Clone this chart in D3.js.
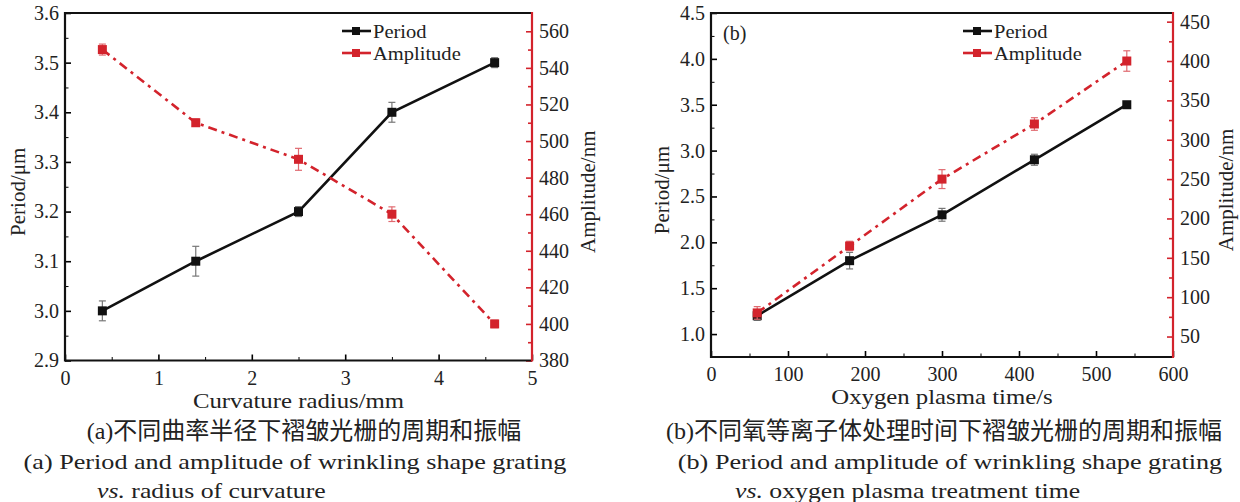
<!DOCTYPE html>
<html>
<head>
<meta charset="utf-8">
<script src="https://d3js.org/d3.v7.min.js"></script>
<style>
  body { margin: 0; background: #fff; }
  svg text { font-family: "Liberation Serif", "Noto Sans CJK SC", serif; fill: #222; }
</style>
</head>
<body>
<script>
// panel (a): curvature radius
const radius = [0.4, 1.4, 2.5, 3.5, 4.6];
const periodA = [3.0, 3.1, 3.2, 3.4, 3.5];
const periodAErr = [0.02, 0.03, 0.01, 0.02, 0.01];
const amplitudeA = [550, 510, 490, 460, 400];
const amplitudeAErr = [3, 2, 6, 4, 2];

// panel (b): oxygen plasma time
const plasmaTime = [60, 180, 300, 420, 540];
const periodB = [1.2, 1.8, 2.3, 2.9, 3.5];
const periodBErr = [0.05, 0.09, 0.07, 0.06, 0.03];
const amplitudeB = [80, 165, 250, 320, 400];
const amplitudeBErr = [8, 6, 12, 8, 13];

const seriesNames = ["Period", "Amplitude"];

const red = "#d3232c";
const W = 1240, H = 502;

const svg = d3.select("body").append("svg")
    .attr("width", W)
    .attr("height", H);

// text a bit wider than the font (scan is stretched)
function wideText(g, x, y, size, sx, anchor) {
    return g.append("text")
        .attr("transform", "translate(" + x + "," + y + ") scale(" + sx + ",1)")
        .attr("dy", "0.35em")
        .style("text-anchor", anchor)
        .style("font-size", size + "px");
}

function drawPanel(p) {
    let x = d3.scaleLinear().domain(p.xDomain).range([p.left, p.right]);
    let yL = d3.scaleLinear().domain(p.yLDomain).range([p.bottom, p.top]);
    let yR = d3.scaleLinear().domain(p.yRDomain).range([p.bottom, p.top]);

    let g = svg.append("g");

    // minor ticks first
    g.append("g").attr("transform", "translate(0," + p.bottom + ")")
        .call(d3.axisBottom(x).tickValues(p.xMinor).tickFormat("").tickSize(-3.5))
        .call(a => a.select(".domain").remove());
    g.append("g").attr("transform", "translate(" + p.left + ",0)")
        .call(d3.axisLeft(yL).tickValues(p.yLMinor).tickFormat("").tickSize(-3.5))
        .call(a => a.select(".domain").remove());
    g.append("g").attr("transform", "translate(" + p.right + ",0)")
        .call(d3.axisRight(yR).tickValues(p.yRMinor).tickFormat("").tickSize(-4))
        .call(a => a.select(".domain").remove())
        .selectAll("line").attr("stroke", red).attr("stroke-width", 1.6);

    // major axes
    let xa = g.append("g").attr("transform", "translate(0," + p.bottom + ")")
        .call(d3.axisBottom(x).tickValues(p.xTicks).tickFormat(p.xFmt).tickSize(-6).tickPadding(5));
    let yla = g.append("g").attr("transform", "translate(" + p.left + ",0)")
        .call(d3.axisLeft(yL).tickValues(p.yLTicks).tickFormat(p.yLFmt).tickSize(-6).tickPadding(6));
    let yra = g.append("g").attr("transform", "translate(" + p.right + ",0)")
        .call(d3.axisRight(yR).tickValues(p.yRTicks).tickFormat(d3.format("d")).tickSize(-6).tickPadding(7));

    [xa, yla, yra].forEach(a => {
        a.select(".domain").remove();
        a.selectAll("text").style("font-size", "20px").attr("fill", "#333");
        a.selectAll("line").attr("stroke-width", 1.6);
    });
    yra.selectAll("line").attr("stroke", red);
    xa.selectAll("text").attr("dy", "0.95em");

    // frame
    g.append("line").attr("x1", p.left).attr("x2", p.right).attr("y1", p.top).attr("y2", p.top)
        .attr("stroke", "#111").attr("stroke-width", 2.2);
    g.append("line").attr("x1", p.left).attr("x2", p.right).attr("y1", p.bottom).attr("y2", p.bottom)
        .attr("stroke", "#111").attr("stroke-width", 2.2);
    g.append("line").attr("x1", p.left).attr("x2", p.left).attr("y1", p.top - 1).attr("y2", p.bottom + 1)
        .attr("stroke", "#111").attr("stroke-width", 2.2);
    g.append("line").attr("x1", p.right).attr("x2", p.right).attr("y1", p.top - 1).attr("y2", p.bottom + 1)
        .attr("stroke", red).attr("stroke-width", 2.2);

    // series
    let series = [
        {name: seriesNames[0], xs: p.xs, ys: p.period, err: p.periodErr, scale: yL, color: "#111", err_color: "#777", dash: null},
        {name: seriesNames[1], xs: p.xs, ys: p.amplitude, err: p.amplitudeErr, scale: yR, color: red, err_color: "#e06a70", dash: "9,5,3,5"}
    ];

    series.forEach(s => {
        let pts = s.xs.map((v, i) => ({x: v, y: s.ys[i], e: s.err[i]}));
        let line = d3.line().x(d => x(d.x)).y(d => s.scale(d.y));
        g.append("path")
            .attr("d", line(pts))
            .attr("fill", "none")
            .attr("stroke", s.color)
            .attr("stroke-width", 2.6)
            .attr("stroke-dasharray", s.dash);

        let eb = g.append("g").selectAll("g").data(pts).join("g");
        eb.append("line")
            .attr("x1", d => x(d.x)).attr("x2", d => x(d.x))
            .attr("y1", d => s.scale(d.y - d.e)).attr("y2", d => s.scale(d.y + d.e))
            .attr("stroke", s.err_color).attr("stroke-width", 1.2);
        [-1, 1].forEach(k => {
            eb.append("line")
                .attr("x1", d => x(d.x) - 3.5).attr("x2", d => x(d.x) + 3.5)
                .attr("y1", d => s.scale(d.y + k * d.e)).attr("y2", d => s.scale(d.y + k * d.e))
                .attr("stroke", s.err_color).attr("stroke-width", 1.2);
        });

        g.append("g").selectAll("rect").data(pts).join("rect")
            .attr("x", d => x(d.x) - 4.5)
            .attr("y", d => s.scale(d.y) - 4.5)
            .attr("width", 9).attr("height", 9)
            .attr("fill", s.color);
    });

    // legend
    series.forEach((s, i) => {
        let ly = p.legendY + i * 22;
        g.append("line")
            .attr("x1", p.legendX).attr("x2", p.legendX + 29)
            .attr("y1", ly).attr("y2", ly)
            .attr("stroke", s.color).attr("stroke-width", 2.6);
        g.append("rect")
            .attr("x", p.legendX + 10).attr("y", ly - 4).attr("width", 8).attr("height", 8)
            .attr("fill", s.color);
        wideText(g, p.legendX + 31, ly, 19, 1.08, "start").text(s.name);
    });

    if (p.tag) {
        g.append("text").attr("x", p.left + 12).attr("y", p.top + 20)
            .attr("dy", "0.35em").style("font-size", "20px").text(p.tag);
    }

    // axis titles
    wideText(g, (p.left + p.right) / 2, p.bottom + 40, 21, 1.18, "middle").text(p.xTitle);
    g.append("text")
        .attr("transform", "translate(" + p.yLTitleX + "," + ((p.top + p.bottom) / 2 + 5) + ") rotate(-90)")
        .attr("dy", "0.35em").style("text-anchor", "middle").style("font-size", "21px")
        .text(p.yLTitle);
    g.append("text")
        .attr("transform", "translate(" + p.yRTitleX + "," + ((p.top + p.bottom) / 2 + 5) + ") rotate(-90)")
        .attr("dy", "0.35em").style("text-anchor", "middle").style("font-size", "21px")
        .text(p.yRTitle);

    // captions
    wideText(g, p.capCX, 431, 24, 1.0, "middle").text(p.capZh);
    wideText(g, p.capEnX, 461, 22, 1.19, "middle").text(p.capEn1);
    let t = wideText(g, p.capVsX, 490, 22, 1.17, "start");
    t.append("tspan").style("font-style", "italic").text("vs.");
    t.append("tspan").text("  " + p.capEn2);
}

drawPanel({
    left: 65, right: 532, top: 13, bottom: 360.5,
    xDomain: [0, 5], yLDomain: [2.9, 3.6], yRDomain: [380, 570],
    xTicks: [0, 1, 2, 3, 4, 5], xMinor: [0.5, 1.5, 2.5, 3.5, 4.5],
    yLTicks: [2.9, 3.0, 3.1, 3.2, 3.3, 3.4, 3.5, 3.6], yLMinor: [2.95, 3.05, 3.15, 3.25, 3.35, 3.45, 3.55],
    yRTicks: [380, 400, 420, 440, 460, 480, 500, 520, 540, 560], yRMinor: [390, 410, 430, 450, 470, 490, 510, 530, 550],
    xFmt: d3.format("d"), yLFmt: d3.format(".1f"),
    xs: radius, period: periodA, periodErr: periodAErr, amplitude: amplitudeA, amplitudeErr: amplitudeAErr,
    legendX: 342, legendY: 31,
    tag: null,
    xTitle: "Curvature radius/mm", yLTitle: "Period/μm", yRTitle: "Amplitude/nm",
    yLTitleX: 18, yRTitleX: 588,
    capCX: 304, capEnX: 295, capVsX: 97,
    capZh: "(a)不同曲率半径下褶皱光栅的周期和振幅",
    capEn1: "(a) Period and amplitude of wrinkling shape grating",
    capEn2: "radius of curvature"
});

drawPanel({
    left: 711, right: 1173, top: 13, bottom: 357,
    xDomain: [0, 600], yLDomain: [0.75, 4.5], yRDomain: [24, 461],
    xTicks: [0, 100, 200, 300, 400, 500, 600], xMinor: [50, 150, 250, 350, 450, 550],
    yLTicks: [1.0, 1.5, 2.0, 2.5, 3.0, 3.5, 4.0, 4.5], yLMinor: [1.25, 1.75, 2.25, 2.75, 3.25, 3.75, 4.25],
    yRTicks: [50, 100, 150, 200, 250, 300, 350, 400, 450], yRMinor: [75, 125, 175, 225, 275, 325, 375, 425],
    xFmt: d3.format("d"), yLFmt: d3.format(".1f"),
    xs: plasmaTime, period: periodB, periodErr: periodBErr, amplitude: amplitudeB, amplitudeErr: amplitudeBErr,
    legendX: 963, legendY: 31,
    tag: "(b)",
    xTitle: "Oxygen plasma time/s", yLTitle: "Period/μm", yRTitle: "Amplitude/nm",
    yLTitleX: 662, yRTitleX: 1226,
    capCX: 944, capEnX: 950, capVsX: 735,
    capZh: "(b)不同氧等离子体处理时间下褶皱光栅的周期和振幅",
    capEn1: "(b) Period and amplitude of wrinkling shape grating",
    capEn2: "oxygen plasma treatment time"
});
</script>
</body>
</html>
